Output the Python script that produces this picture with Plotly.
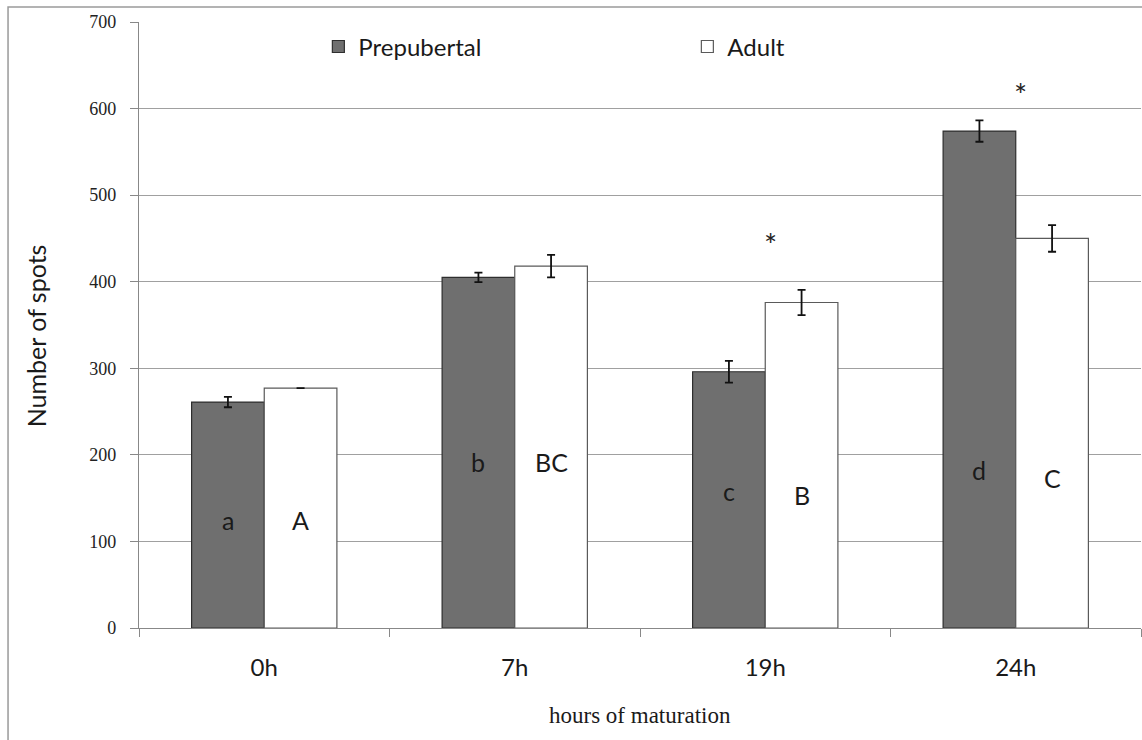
import plotly.graph_objects as go

# Hours of maturation and spot counts per group
hours = ["0h", "7h", "19h", "24h"]
prepubertal = [261, 405, 296, 574]
prepubertal_err = [6, 5.5, 12.5, 12.3]
adult = [277, 418, 376, 450]
adult_err = [None, 13, 14.6, 15.4]

# Significance letters (label, height in spot units)
prep_letters = ["a", "b", "c", "d"]
prep_letter_y = [125, 192, 158, 182]
adult_letters = ["A", "BC", "B", "C"]
adult_letter_y = [125, 192, 154, 173]

# Asterisks marking differences between groups
star_hours = [2, 3]
star_y = [454, 627]

SANS = "Lato, 'Open Sans', sans-serif"
SERIF = "'Liberation Serif', 'Times New Roman', serif"

fig = go.Figure()
fig.add_trace(go.Bar(
    name="Prepubertal", x=hours, y=prepubertal,
    marker=dict(color="#6f6f6f", line=dict(color="#2e2e2e", width=1.2)),
    error_y=dict(type="data", array=prepubertal_err, visible=True,
                 color="#111111", thickness=1.8, width=4),
))
fig.add_trace(go.Bar(
    name="Adult", x=hours, y=adult,
    marker=dict(color="#ffffff", line=dict(color="#5a5a5a", width=1.2)),
    error_y=dict(type="data", array=adult_err, visible=True,
                 color="#111111", thickness=1.8, width=4),
))

annotations = []
offset = 0.145
for i in range(len(hours)):
    annotations.append(dict(x=i - offset, y=prep_letter_y[i], xref="x", yref="y",
                            text=prep_letters[i], showarrow=False,
                            font=dict(family=SANS, size=25, color="#1a1a1a")))
    annotations.append(dict(x=i + offset, y=adult_letter_y[i], xref="x", yref="y",
                            text=adult_letters[i], showarrow=False,
                            font=dict(family=SANS, size=25, color="#1a1a1a")))
for h, yv in zip(star_hours, star_y):
    annotations.append(dict(x=h + 0.02, y=yv, xref="x", yref="y", text="*",
                            showarrow=False, yshift=-9,
                            font=dict(family=SANS, size=31, color="#222222")))

annotations.append(dict(x=0.5, y=-0.145, xref="paper", yref="paper",
                        xanchor="center", yanchor="middle",
                        text="hours of maturation", showarrow=False,
                        font=dict(family=SERIF, size=23, color="#1a1a1a")))
annotations.append(dict(x=-0.1028, y=0.483, xref="paper", yref="paper",
                        xanchor="center", yanchor="middle",
                        text="Number of spots", showarrow=False, textangle=-90,
                        font=dict(family=SANS, size=25, color="#1a1a1a")))

fig.update_layout(
    width=1142, height=740,
    margin=dict(l=139, r=1, t=22, b=112),
    paper_bgcolor="#ffffff", plot_bgcolor="#ffffff",
    barmode="group", bargap=0.42, bargroupgap=0,
    showlegend=True,
    legend=dict(orientation="h", x=0.179, y=0.996, xanchor="left", yanchor="top",
                entrywidth=324, entrywidthmode="pixels",
                font=dict(family=SANS, size=24, color="#1a1a1a"),
                bgcolor="rgba(0,0,0,0)"),
    annotations=annotations,
    shapes=[dict(type="rect", xref="paper", yref="paper",
                 x0=-0.1307, x1=1.2, y0=-0.3, y1=1.0248,
                 line=dict(color="#9a9a9a", width=1.5), layer="below")],
)
fig.update_xaxes(
    type="category", tickson="boundaries", ticks="outside", ticklen=8,
    tickcolor="#888888", showline=True, linecolor="#888888", linewidth=1.2,
    showgrid=False, ticklabelstandoff=18,
    tickfont=dict(family=SANS, size=24, color="#1a1a1a"),
)
fig.update_yaxes(
    range=[0, 700], dtick=100, ticks="outside", ticklen=8, tickcolor="#888888",
    showline=True, linecolor="#888888", linewidth=1.2,
    showgrid=True, gridcolor="#a0a0a0", gridwidth=1.3, zeroline=False,
    ticklabelstandoff=10,
    tickfont=dict(family=SERIF, size=18, color="#222222"),
)

fig.write_html("out.html")
